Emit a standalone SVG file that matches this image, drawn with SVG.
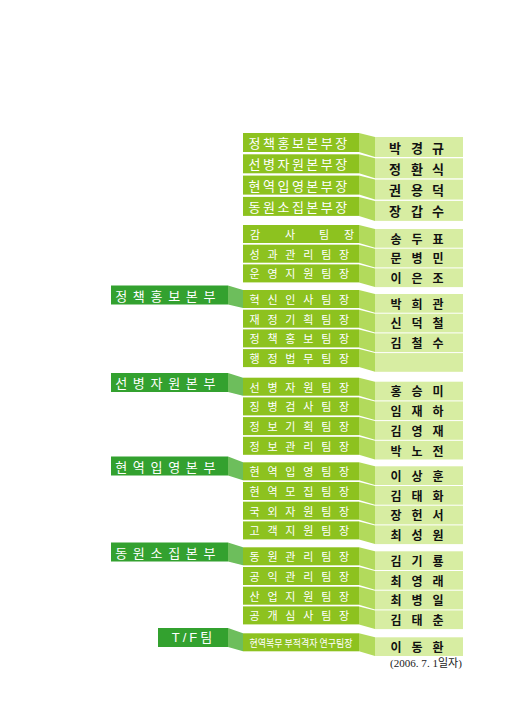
<svg xmlns="http://www.w3.org/2000/svg" xmlns:xlink="http://www.w3.org/1999/xlink" width="517" height="723" viewBox="0 0 517 723">
<style>
.box{fill:#8dc21f}
.side{fill:#b2da5c}
.name{fill:#d7eda2}
.lab{fill:#33a12f}
.conn{fill:#6dbe5c}
text{font-family:"Noto Sans CJK KR","Liberation Sans",sans-serif;dominant-baseline:central}
.t7{fill:#fff;font-size:13px;letter-spacing:2.5px}
.t6{fill:#fff;font-size:11px;letter-spacing:7.8px}
.tm{fill:#fff;font-size:11px;text-anchor:middle}
.ts{fill:#fff;font-size:10px}
.lt{fill:#fff;font-size:13px;letter-spacing:5.7px}
.nmA{fill:#111;font-size:13px;font-weight:bold;text-anchor:middle}
.nm{fill:#111;font-size:12px;font-weight:bold;text-anchor:middle}
.date{font-family:"Liberation Serif","Noto Sans CJK KR",serif;font-size:11px;fill:#222}
</style>
<defs>
<g id="bgA">
<rect class="box" x="243" y="0" width="116" height="19"/>
<polygon class="side" points="359,0 375,4 375,24 359,19"/>
<rect class="name" x="375" y="4" width="88" height="20"/>
</g>
<g id="bgB">
<rect class="box" x="243" y="0" width="116" height="18"/>
<polygon class="side" points="359,0 375,4 375,22.7 359,18"/>
<rect class="name" x="375" y="4" width="88" height="18.7"/>
</g>
</defs>
<rect width="517" height="723" fill="#fff"/>

<g id="connectors">
<polygon class="conn" points="228,285.5 243,290 243,308 228,304.5"/>
<polygon class="conn" points="228,373 243,377.7 243,395.7 228,392"/>
<polygon class="conn" points="228,456.5 243,462.3 243,480.3 228,475.5"/>
<polygon class="conn" points="228,542.5 243,547.3 243,565.3 228,561.5"/>
<polygon class="conn" points="228,628 243,633.3 243,651.3 228,647"/>
</g>

<g id="label-policy" transform="translate(0,285.5)"><rect class="lab" x="111" y="0" width="117" height="19"/><text class="lt" x="115.2" y="9.5">정책홍보본부</text></g>
<g id="label-conscription" transform="translate(0,373)"><rect class="lab" x="111" y="0" width="117" height="19"/><text class="lt" x="115.2" y="9.5">선병자원본부</text></g>
<g id="label-enlistment" transform="translate(0,456.5)"><rect class="lab" x="111" y="0" width="117" height="19"/><text class="lt" x="115.2" y="9.5">현역입영본부</text></g>
<g id="label-mobilization" transform="translate(0,542.5)"><rect class="lab" x="111" y="0" width="117" height="19"/><text class="lt" x="115.2" y="9.5">동원소집본부</text></g>
<g id="label-tf" transform="translate(0,628)"><rect class="lab" x="158" y="0" width="70" height="19"/><text class="lt" x="193.5" y="9.5" style="text-anchor:middle;letter-spacing:3px;font-family:'Liberation Sans','Noto Sans CJK KR',sans-serif">T/F팀</text></g>

<g id="row-a1" transform="translate(0,133)"><use href="#bgA"/><text class="t7" x="248.5" y="9.5">정책홍보본부장</text><text class="nmA" x="395 417 438" y="14">박경규</text></g>
<g id="row-a2" transform="translate(0,154.3)"><use href="#bgA"/><text class="t7" x="248.5" y="9.5">선병자원본부장</text><text class="nmA" x="395 417 438" y="14">정환식</text></g>
<g id="row-a3" transform="translate(0,175.6)"><use href="#bgA"/><text class="t7" x="248.5" y="9.5">현역입영본부장</text><text class="nmA" x="395 417 438" y="14">권용덕</text></g>
<g id="row-a4" transform="translate(0,196.9)"><use href="#bgA"/><text class="t7" x="248.5" y="9.5">동원소집본부장</text><text class="nmA" x="395 417 438" y="14">장갑수</text></g>

<g id="row-b1" transform="translate(0,225)"><use href="#bgB"/><text class="tm" x="255 290 324 349" y="9">감사팀장</text><text class="nm" x="396 417 438" y="13.3">송두표</text></g>
<g id="row-b2" transform="translate(0,244.7)"><use href="#bgB"/><text class="t6" x="249.5" y="9">성과관리팀장</text><text class="nm" x="396 417 438" y="13.3">문병민</text></g>
<g id="row-b3" transform="translate(0,264.4)"><use href="#bgB"/><text class="t6" x="249.5" y="9">운영지원팀장</text><text class="nm" x="396 417 438" y="13.3">이은조</text></g>

<g id="row-c1" transform="translate(0,290)"><use href="#bgB"/><text class="t6" x="249.5" y="9">혁신인사팀장</text><text class="nm" x="396 417 438" y="13.3">박희관</text></g>
<g id="row-c2" transform="translate(0,309.7)"><use href="#bgB"/><text class="t6" x="249.5" y="9">재정기획팀장</text><text class="nm" x="396 417 438" y="13.3">신덕철</text></g>
<g id="row-c3" transform="translate(0,329.4)"><use href="#bgB"/><text class="t6" x="249.5" y="9">정책홍보팀장</text><text class="nm" x="396 417 438" y="13.3">김철수</text></g>
<g id="row-c4" transform="translate(0,349.1)"><use href="#bgB"/><text class="t6" x="249.5" y="9">행정법무팀장</text></g>

<g id="row-d1" transform="translate(0,377.7)"><use href="#bgB"/><text class="t6" x="249.5" y="9">선병자원팀장</text><text class="nm" x="396 417 438" y="13.3">홍승미</text></g>
<g id="row-d2" transform="translate(0,397.4)"><use href="#bgB"/><text class="t6" x="249.5" y="9">징병검사팀장</text><text class="nm" x="396 417 438" y="13.3">임재하</text></g>
<g id="row-d3" transform="translate(0,417.1)"><use href="#bgB"/><text class="t6" x="249.5" y="9">정보기획팀장</text><text class="nm" x="396 417 438" y="13.3">김영재</text></g>
<g id="row-d4" transform="translate(0,436.8)"><use href="#bgB"/><text class="t6" x="249.5" y="9">정보관리팀장</text><text class="nm" x="396 417 438" y="13.3">박노전</text></g>

<g id="row-e1" transform="translate(0,462.3)"><use href="#bgB"/><text class="t6" x="249.5" y="9">현역입영팀장</text><text class="nm" x="396 417 438" y="13.3">이상훈</text></g>
<g id="row-e2" transform="translate(0,482)"><use href="#bgB"/><text class="t6" x="249.5" y="9">현역모집팀장</text><text class="nm" x="396 417 438" y="13.3">김태화</text></g>
<g id="row-e3" transform="translate(0,501.7)"><use href="#bgB"/><text class="t6" x="249.5" y="9">국외자원팀장</text><text class="nm" x="396 417 438" y="13.3">장헌서</text></g>
<g id="row-e4" transform="translate(0,521.4)"><use href="#bgB"/><text class="t6" x="249.5" y="9">고객지원팀장</text><text class="nm" x="396 417 438" y="13.3">최성원</text></g>

<g id="row-f1" transform="translate(0,547.3)"><use href="#bgB"/><text class="t6" x="249.5" y="9">동원관리팀장</text><text class="nm" x="396 417 438" y="13.3">김기룡</text></g>
<g id="row-f2" transform="translate(0,567)"><use href="#bgB"/><text class="t6" x="249.5" y="9">공익관리팀장</text><text class="nm" x="396 417 438" y="13.3">최영래</text></g>
<g id="row-f3" transform="translate(0,586.7)"><use href="#bgB"/><text class="t6" x="249.5" y="9">산업지원팀장</text><text class="nm" x="396 417 438" y="13.3">최병일</text></g>
<g id="row-f4" transform="translate(0,606.4)"><use href="#bgB"/><text class="t6" x="249.5" y="9">공개심사팀장</text><text class="nm" x="396 417 438" y="13.3">김태춘</text></g>

<g id="row-g1" transform="translate(0,633.3)"><use href="#bgB"/><text class="ts" x="249.5" y="9" textLength="103" lengthAdjust="spacingAndGlyphs">현역복무 부적격자 연구팀장</text><text class="nm" x="396 417 438" y="13.3">이동환</text></g>

<text class="date" x="390" y="663" textLength="72" lengthAdjust="spacingAndGlyphs">(2006. 7. 1일자)</text>
</svg>
